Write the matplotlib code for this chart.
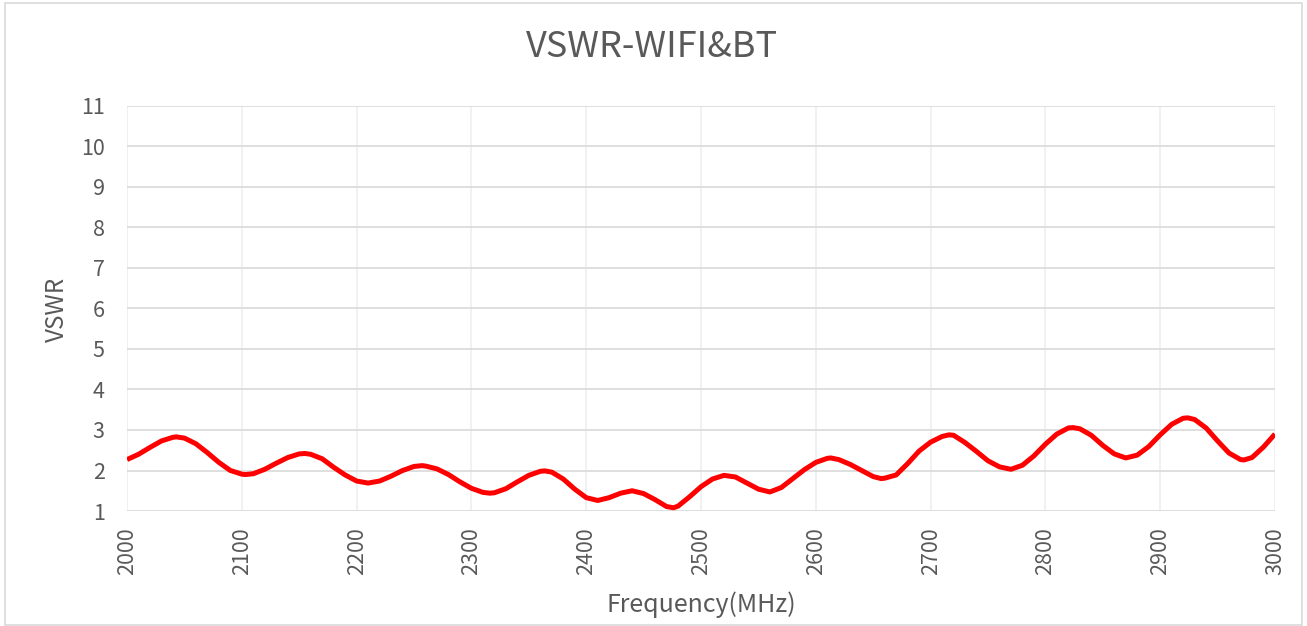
import matplotlib
matplotlib.use("Agg")
import matplotlib.pyplot as plt
from matplotlib.patches import Rectangle

plt.rcParams['font.family'] = ['Noto Sans CJK SC', 'DejaVu Sans']

# ---- data (MHz, VSWR); 10 MHz grid plus the read extrema ----
freq_mhz = [
    2000, 2010, 2020, 2030, 2040, 2043, 2050, 2060, 2070, 2080, 2090,
    2100, 2103, 2110, 2120, 2130, 2140, 2150, 2155, 2160, 2170, 2180, 2190,
    2200, 2210, 2220, 2230, 2240, 2250, 2257, 2260, 2270, 2280, 2290,
    2300, 2310, 2316, 2320, 2330, 2340, 2350, 2360, 2364, 2370, 2380, 2390,
    2400, 2410, 2420, 2430, 2440, 2450, 2460, 2470, 2476, 2480, 2490,
    2500, 2510, 2520, 2530, 2540, 2550, 2560, 2570, 2580, 2590,
    2600, 2610, 2613, 2620, 2630, 2640, 2650, 2657, 2660, 2670, 2680, 2690,
    2700, 2710, 2716, 2720, 2730, 2740, 2750, 2760, 2770, 2780, 2790,
    2800, 2810, 2820, 2824, 2830, 2840, 2850, 2860, 2870, 2880, 2890,
    2900, 2910, 2920, 2924, 2930, 2940, 2950, 2960, 2970, 2973, 2980, 2990,
    3000,
]
vswr = [
    2.27, 2.40, 2.57, 2.73, 2.82, 2.83, 2.80, 2.66, 2.44, 2.20, 2.00,
    1.91, 1.90, 1.92, 2.03, 2.18, 2.32, 2.41, 2.42, 2.40, 2.29, 2.08, 1.89,
    1.74, 1.69, 1.74, 1.86, 2.00, 2.10, 2.12, 2.11, 2.04, 1.90, 1.72,
    1.56, 1.46, 1.44, 1.45, 1.55, 1.72, 1.88, 1.98, 1.99, 1.96, 1.79, 1.54,
    1.33, 1.26, 1.33, 1.44, 1.50, 1.43, 1.28, 1.11, 1.08, 1.12, 1.35,
    1.60, 1.79, 1.88, 1.84, 1.69, 1.54, 1.47, 1.58, 1.80, 2.02,
    2.20, 2.30, 2.31, 2.27, 2.15, 2.00, 1.85, 1.80, 1.81, 1.89, 2.17, 2.48,
    2.70, 2.84, 2.88, 2.87, 2.69, 2.47, 2.24, 2.09, 2.03, 2.13, 2.36,
    2.65, 2.90, 3.05, 3.06, 3.03, 2.87, 2.62, 2.41, 2.31, 2.38, 2.59,
    2.88, 3.14, 3.29, 3.30, 3.26, 3.05, 2.73, 2.43, 2.27, 2.26, 2.32, 2.58,
    2.90,
]
x_ticks = list(range(2000, 3001, 100))
y_ticks = list(range(1, 12))

TXT = "#595959"

fig = plt.figure(figsize=(13.07, 6.26), dpi=100)
ax = fig.add_axes([0.0972, 0.1837, 0.8783, 0.6470])

ax.plot(freq_mhz, vswr, color="#ff0000", lw=3.6, solid_joinstyle="round",
        solid_capstyle="butt", zorder=3)

ax.set_xlim(2000, 3000)
ax.set_ylim(1, 11)
ax.set_xticks(x_ticks)
ax.set_yticks(y_ticks)
ax.set_xticklabels([str(t) for t in x_ticks], rotation=90)

# excel-like grid: darker horizontals, faint verticals
for y in y_ticks:
    ax.axhline(y, color="#d9d9d9", lw=1.2, zorder=1)
for x in x_ticks:
    ax.axvline(x, color="#efefef", lw=1.2, zorder=0)

for s in ax.spines.values():
    s.set_visible(False)
ax.tick_params(length=0, labelsize=15.5, labelcolor=TXT)
ax.tick_params(axis="x", pad=12)
ax.tick_params(axis="y", pad=16)

fig.text(0.5364, 0.0335, "Frequency(MHz)", ha="center", va="center", fontsize=18, color=TXT)
fig.text(0.0436, 0.505, "VSWR", ha="center", va="center", rotation=90, fontsize=17.5, color=TXT)
fig.text(0.4992, 0.925, "VSWR-WIFI&BT", ha="center", va="center", fontsize=26, color=TXT)

# chart border
fig.patches.append(Rectangle((0.004, 0.002), 0.992, 0.993, transform=fig.transFigure,
                             fill=False, edgecolor="#d9d9d9", lw=1.2))

fig.savefig("out.png", dpi=100)
